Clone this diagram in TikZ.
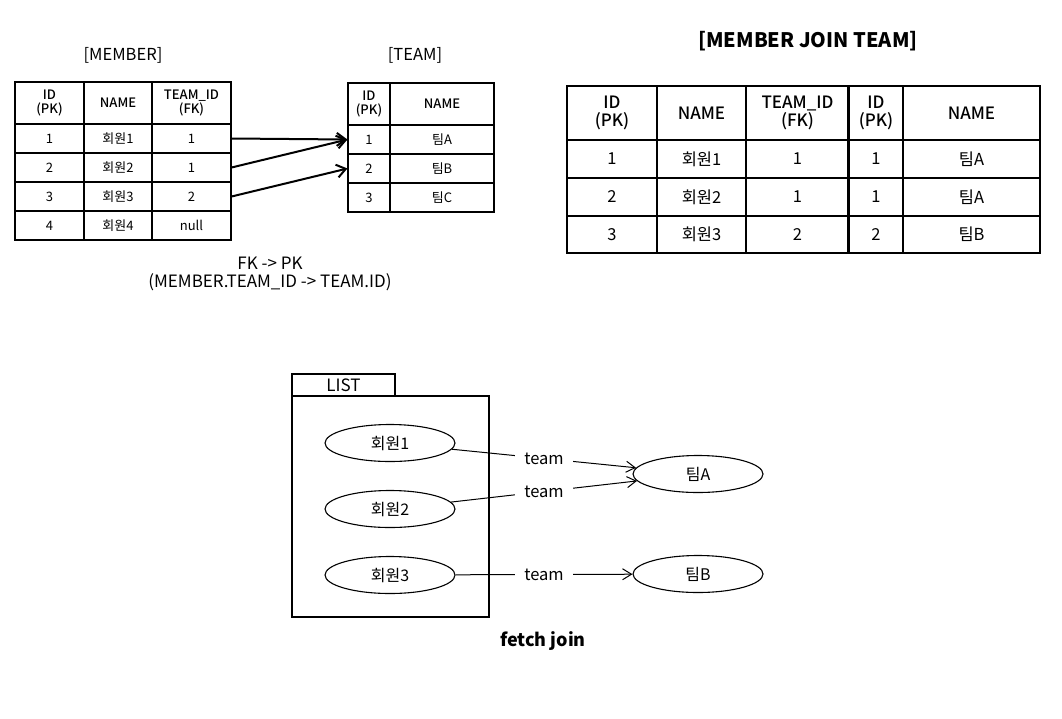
\documentclass[tikz,border=0pt]{standalone}
\usepackage{fontspec}
\setmainfont{Noto Sans CJK KR}
\newfontfamily\mediumfont{Noto Sans CJK KR Medium}
\usetikzlibrary{shapes.geometric,arrows.meta}

\begin{document}
\begin{tikzpicture}[x=1pt, y=-1pt,
    cell/.style={draw, line width=1.1pt, inner sep=0pt, align=center},
    small/.style={font=\fontsize{13}{14}\selectfont},
    smallhead/.style={font=\fontsize{13}{14.5}\selectfont\mediumfont},
    big/.style={font=\fontsize{16.5}{18}\selectfont},
    bighead/.style={font=\fontsize{17}{18.5}\selectfont\mediumfont},
    fk/.style={line width=2pt, -{Straight Barb[length=9pt,width=13pt,line width=2pt]}},
    obj/.style={ellipse, draw, line width=1.1pt, minimum width=130pt, minimum height=37pt, font=\fontsize{16}{18}\selectfont},
    ref/.style={line width=1pt, -{Straight Barb[length=9pt,width=11pt,line width=1pt]}},
    reflabel/.style={fill=white, inner xsep=9pt, inner ysep=1pt, font=\fontsize{16.5}{18}\selectfont}]
    \useasboundingbox (0,0) rectangle (1062,718);

    \node[big] (memtitle) at (123,55) {[MEMBER]};
    \node[big] (teamtitle) at (415,55) {[TEAM]};

    \node[cell, smallhead, minimum width=69pt, minimum height=42pt] (m0-1) at (49.5,103) {ID\\(PK)};
    \node[cell, smallhead, minimum width=68pt, minimum height=42pt] (m0-2) at (118,103) {NAME};
    \node[cell, smallhead, minimum width=79pt, minimum height=42pt] (m0-3) at (191.5,103) {TEAM\_ID\\(FK)};
    \foreach \r/\y/\a/\b/\d in {1/138.5/1/회원1/1, 2/167.5/2/회원2/1, 3/196.5/3/회원3/2, 4/225.5/4/회원4/null} {
        \node[cell, small, minimum width=69pt, minimum height=29pt] (m\r-1) at (49.5,\y) {\a};
        \node[cell, small, minimum width=68pt, minimum height=29pt] (m\r-2) at (118,\y) {\b};
        \node[cell, small, minimum width=79pt, minimum height=29pt] (m\r-3) at (191.5,\y) {\d};
    }

    \node[cell, smallhead, minimum width=42pt, minimum height=42pt] (t0-1) at (369,104) {ID\\(PK)};
    \node[cell, smallhead, minimum width=104pt, minimum height=42pt] (t0-2) at (442,104) {NAME};
    \foreach \r/\y/\a/\b in {1/139.5/1/팀A, 2/168.5/2/팀B, 3/197.5/3/팀C} {
        \node[cell, small, minimum width=42pt, minimum height=29pt] (t\r-1) at (369,\y) {\a};
        \node[cell, small, minimum width=104pt, minimum height=29pt] (t\r-2) at (442,\y) {\b};
    }

    \draw[fk] (m1-3.east) -- (t1-1.west);
    \draw[fk] (m2-3.east) -- (t1-1.west);
    \draw[fk] (m3-3.east) -- (t2-1.west);

    \node[align=center, font=\fontsize{17}{18.5}\selectfont] (fknote) at (270,274) {FK -> PK\\(MEMBER.TEAM\_ID -> TEAM.ID)};

    \node[font=\fontsize{20}{22}\selectfont\bfseries] (jointitle) at (808,41) {[MEMBER JOIN TEAM]};
    \node[cell, bighead, minimum width=90pt, minimum height=54pt] (j0-1) at (612,113) {ID\\(PK)};
    \node[cell, bighead, minimum width=89pt, minimum height=54pt] (j0-2) at (701.5,113) {NAME};
    \node[cell, bighead, minimum width=103pt, minimum height=54pt] (j0-3) at (797.5,113) {TEAM\_ID\\(FK)};
    \node[cell, bighead, minimum width=54pt, minimum height=54pt] (j0-4) at (876,113) {ID\\(PK)};
    \node[cell, bighead, minimum width=137pt, minimum height=54pt] (j0-5) at (971.5,113) {NAME};
    \foreach \r/\y/\h/\a/\b/\d/\e/\f in {1/159/38/1/회원1/1/1/팀A, 2/197/38/2/회원2/1/1/팀A, 3/234.5/37/3/회원3/2/2/팀B} {
        \node[cell, big, minimum width=90pt, minimum height=\h pt] (j\r-1) at (612,\y) {\a};
        \node[cell, big, minimum width=89pt, minimum height=\h pt] (j\r-2) at (701.5,\y) {\b};
        \node[cell, big, minimum width=103pt, minimum height=\h pt] (j\r-3) at (797.5,\y) {\d};
        \node[cell, big, minimum width=54pt, minimum height=\h pt] (j\r-4) at (876,\y) {\e};
        \node[cell, big, minimum width=137pt, minimum height=\h pt] (j\r-5) at (971.5,\y) {\f};
    }
    \draw[line width=2.6pt] (j0-4.north west) -- (j3-4.south west);

    \node[draw, line width=1.1pt, minimum width=103pt, minimum height=22pt, inner sep=0pt, font=\fontsize{17}{18}\selectfont] (listtab) at (343.5,385) {LIST};
    \node[draw, line width=1.1pt, minimum width=197pt, minimum height=221pt] (listbox) at (390.5,506.5) {};

    \node[obj] (mem1) at (390,443) {회원1};
    \node[obj] (mem2) at (390,509) {회원2};
    \node[obj] (mem3) at (390,575) {회원3};
    \node[obj] (teamA) at (698,474) {팀A};
    \node[obj] (teamB) at (698,574) {팀B};

    \draw[ref] (mem1) -- node[reflabel] {team} (teamA);
    \draw[ref] (mem2) -- node[reflabel] {team} (teamA);
    \draw[ref] (mem3) -- node[reflabel] {team} (teamB);

    \node[font=\fontsize{18}{20}\selectfont\bfseries] (caption) at (543,641) {fetch join};
\end{tikzpicture}
\end{document}
